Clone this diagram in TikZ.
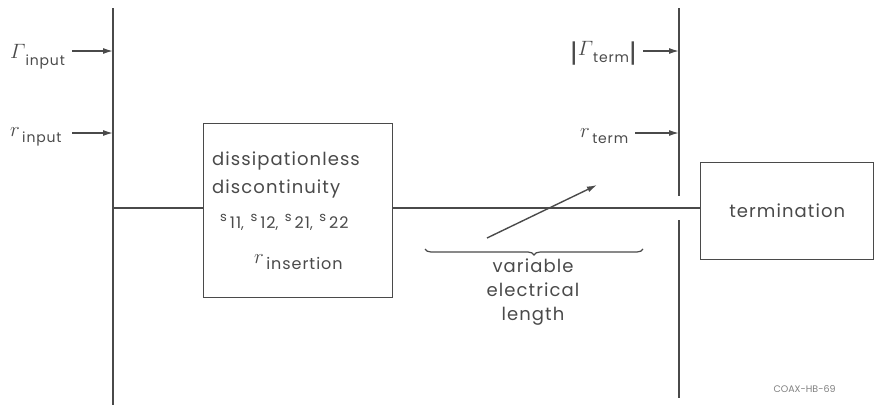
\documentclass[tikz,border=0pt]{standalone}
\usepackage{fontspec}
\setmainfont{Poppins}
\newfontfamily\labfont[LetterSpace=6]{Poppins}
\usetikzlibrary{arrows.meta,decorations.pathreplacing}
\definecolor{ink}{HTML}{4A4A4A}
\newcommand{\sij}[1]{\raisebox{7pt}{\fontsize{13}{13}\selectfont s}\hspace{3pt}{\fontsize{16}{16}\selectfont #1}}
\newcommand{\Gam}{\raisebox{7pt}{\fontsize{22}{22}\selectfont$\mathnormal{\Gamma}$}}
\newcommand{\rr}{\raisebox{6pt}{\fontsize{22}{22}\selectfont$r$}}
\newcommand{\absbar}{{\fontsize{26}{26}\selectfont|}}
\begin{document}
\begin{tikzpicture}[x=1pt,y=-1pt,
  ln/.style={draw=ink,line width=1.4pt},
  arr/.style={ln,-{Latex[length=10pt,width=6pt]}},
  bx/.style={ln,fill=white},
  txt/.style={text=ink,font=\labfont\fontsize{18}{24}\selectfont,inner sep=0pt},
  sub/.style={text=ink,font=\labfont\fontsize{14}{14}\selectfont,inner sep=0pt}]
\useasboundingbox (0,0) rectangle (878,405);
% vertical lines
\coordinate (lt) at (113,8);
\coordinate (lb) at (113,405);
\coordinate (rt) at (679,8);
\coordinate (rm) at (679,196);
\coordinate (rm2) at (679,220);
\coordinate (rb) at (679,398);
\draw[ln] (lt) -- (lb);
\draw[ln] (rt) -- (rm);
\draw[ln] (rm2) -- (rb);
% boxes
\node[bx,minimum width=189pt,minimum height=174pt,anchor=north west] (disc) at (203,123) {};
\node[bx,minimum width=173pt,minimum height=97pt,anchor=north west] (term) at (700,162) {};
\node[txt] at (term.center) (termtxt) {termination};
\coordinate (lj) at (113,208);
\draw[ln] (lj) -- (disc.west |- lj);
\draw[ln] (disc.east |- lj) -- (term.west |- lj);
% box text
\node[txt,anchor=base west] (t1) at (212,165) {dissipationless};
\node[txt,anchor=base west] (t2) at (212,193) {discontinuity};
\node[sub,anchor=base west] (t3) at (220,228) {\sij{11}, \hspace{2pt}\sij{12}, \hspace{2pt}\sij{21}, \hspace{2pt}\sij{22}};
\node[sub,anchor=base west] (t4) at (254,269) {\rr\,\fontsize{16}{16}\selectfont insertion};
% left labels
\node[sub,anchor=base west] (gin) at (10,65) {\Gam\fontsize{14}{14}\selectfont input};
\node[sub,anchor=base west] (rin) at (10,142) {\rr\,\fontsize{14}{14}\selectfont input};
\coordinate (gina) at (72,51);
\coordinate (rina) at (72,133);
\draw[arr] (gina) -- (lt |- gina);
\draw[arr] (rina) -- (lt |- rina);
% right labels
\node[sub,anchor=base west] (gt) at (570,62) {\absbar\Gam\fontsize{14}{14}\selectfont term\absbar};
\node[sub,anchor=base west] (rt2) at (580,143) {\rr\,\fontsize{14}{14}\selectfont term};
\coordinate (gta) at (643,51);
\coordinate (rta) at (635,133);
\draw[arr] (gta) -- (rt |- gta);
\draw[arr] (rta) -- (rt |- rta);
% variable arrow
\coordinate (va) at (487,238);
\coordinate (vb) at (597,185);
\draw[arr] (va) -- (vb);
% brace
\coordinate (b1) at (425,249);
\coordinate (b2) at (643,249);
\draw[ln,line width=1.2pt,decorate,decoration={brace,mirror,amplitude=6pt}] (b1) -- (b2);
\node[txt,align=center,anchor=north] (vel) at (533,259) {variable\\electrical\\length};
\node[text=ink!70,font=\fontsize{9.5}{9.5}\selectfont,anchor=base west] (code) at (770,392) {COAX-HB-69};
\end{tikzpicture}
\end{document}
